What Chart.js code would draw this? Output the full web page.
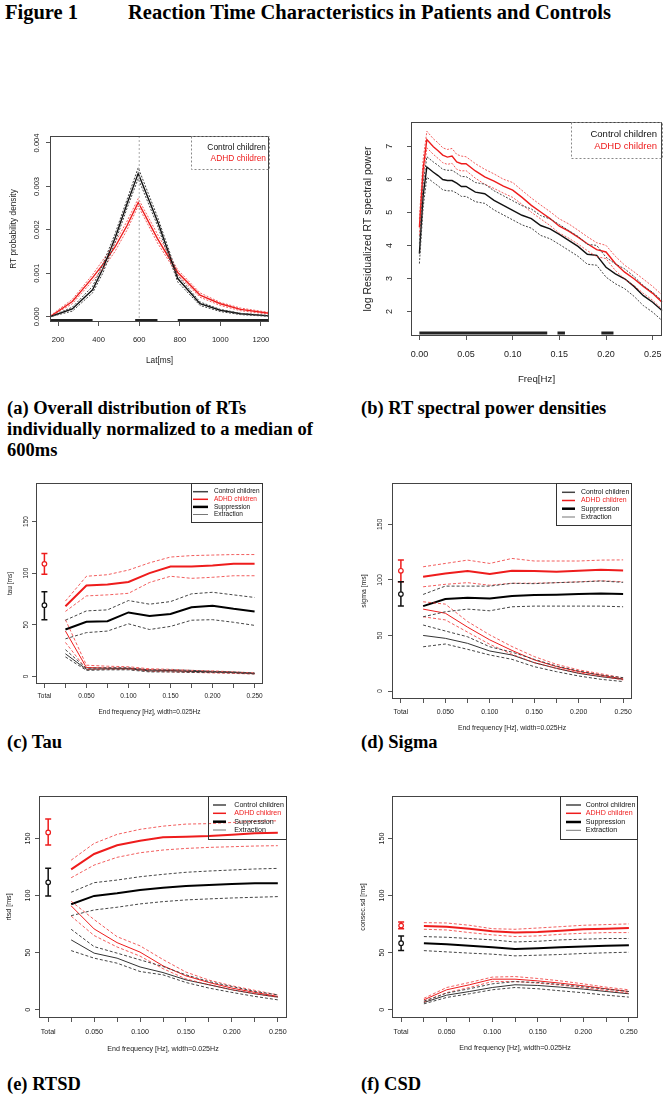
<!DOCTYPE html>
<html><head><meta charset="utf-8">
<script src="https://cdn.jsdelivr.net/npm/chart.js@4.4.1/dist/chart.umd.min.js"></script>
<style>
html,body{margin:0;padding:0;background:#fff}
body{width:669px;height:1102px;position:relative;overflow:hidden}
canvas{position:absolute}
.cap{position:absolute;font-family:"Liberation Serif","Times New Roman",serif;font-weight:bold;font-size:18.5px;line-height:21px;color:#000;white-space:nowrap}
.ttl{font-size:20.5px}
</style></head><body>
<div class="cap ttl" style="left:5px;top:2px">Figure 1</div>
<div class="cap ttl" style="left:128px;top:2px">Reaction Time Characteristics in Patients and Controls</div>
<div class="cap" style="left:7px;top:398px">(a) Overall distribution of RTs<br>individually normalized to a median of<br>600ms</div>
<div class="cap" style="left:361px;top:398px">(b) RT spectral power densities</div>
<div class="cap" style="left:7px;top:732px">(c) Tau</div>
<div class="cap" style="left:361px;top:732px">(d) Sigma</div>
<div class="cap" style="left:7px;top:1074px">(e) RTSD</div>
<div class="cap" style="left:361px;top:1074px">(f) CSD</div>
<script>
// ---------- DATA ----------
// (a) RT distribution
const latA     = [160, 270, 370, 420, 480, 540, 595, 690, 790, 900, 1000, 1100, 1240];
const ctrlA    = [0, 0.00018, 0.00062, 0.0011, 0.0018, 0.0026, 0.0033, 0.0022, 0.00088, 0.0003, 0.00015, 0.00007, 0.00002];
const ctrlAHi  = [0, 0.00022, 0.0007, 0.0012, 0.0019, 0.0027, 0.00343, 0.0023, 0.00095, 0.00034, 0.00017, 0.00008, 0.00003];
const ctrlALo  = [0, 0.00013, 0.00055, 0.001, 0.0017, 0.0025, 0.00318, 0.0021, 0.0008, 0.00026, 0.00012, 0.00005, 0.00001];
const adhdA    = [0, 0.00035, 0.0009, 0.0012, 0.0016, 0.0021, 0.00263, 0.0018, 0.00102, 0.0005, 0.0003, 0.00017, 0.00008];
const adhdAHi  = [0.00002, 0.0004, 0.00097, 0.0013, 0.0017, 0.0022, 0.00272, 0.0019, 0.00108, 0.00055, 0.00033, 0.0002, 0.0001];
const adhdALo  = [0, 0.0003, 0.00083, 0.0011, 0.0015, 0.002, 0.00255, 0.0017, 0.00096, 0.00045, 0.00026, 0.00014, 0.00006];
const sigBarsA = [[160, 370], [580, 690], [790, 1240]];
const xTicksA  = [200, 400, 600, 800, 1000, 1200];
const yTicksA  = [0, 0.001, 0.002, 0.003, 0.004];

// (b) spectral power
const freqB   = [0, 0.004, 0.008, 0.015, 0.02, 0.025, 0.03, 0.035, 0.04, 0.045, 0.05, 0.06, 0.07, 0.08, 0.09, 0.1, 0.11, 0.12, 0.13, 0.14, 0.15, 0.16, 0.17, 0.18, 0.19, 0.2, 0.21, 0.22, 0.23, 0.24, 0.25, 0.26];
const adhdB   = [4.55, 6.3, 7.2, 6.98, 6.86, 6.73, 6.67, 6.7, 6.52, 6.47, 6.47, 6.25, 6.07, 5.94, 5.79, 5.67, 5.45, 5.21, 5.01, 4.81, 4.58, 4.43, 4.25, 4.05, 3.87, 3.8, 3.45, 3.19, 2.99, 2.76, 2.55, 2.28];
const adhdBHi = [4.8, 6.6, 7.45, 7.22, 7.1, 6.95, 6.9, 6.93, 6.75, 6.7, 6.68, 6.47, 6.3, 6.16, 6.0, 5.9, 5.66, 5.43, 5.22, 5.02, 4.8, 4.65, 4.46, 4.26, 4.08, 4.0, 3.67, 3.4, 3.2, 2.98, 2.76, 2.5];
const adhdBLo = [4.3, 6.0, 6.95, 6.75, 6.63, 6.5, 6.45, 6.48, 6.3, 6.25, 6.26, 6.03, 5.85, 5.72, 5.58, 5.45, 5.24, 5.0, 4.8, 4.6, 4.37, 4.22, 4.04, 3.84, 3.66, 3.6, 3.24, 2.98, 2.78, 2.55, 2.34, 2.07];
const ctrlB   = [3.75, 5.5, 6.37, 6.21, 6.11, 5.99, 5.96, 5.96, 5.88, 5.78, 5.78, 5.61, 5.56, 5.36, 5.21, 5.06, 4.91, 4.81, 4.6, 4.5, 4.33, 4.15, 3.97, 3.73, 3.7, 3.34, 3.14, 2.99, 2.76, 2.48, 2.28, 2.03];
const ctrlBHi = [4.05, 5.85, 6.68, 6.52, 6.42, 6.3, 6.27, 6.27, 6.18, 6.08, 6.08, 5.9, 5.85, 5.65, 5.5, 5.35, 5.2, 5.1, 4.9, 4.8, 4.63, 4.45, 4.27, 4.03, 4.0, 3.64, 3.44, 3.29, 3.06, 2.78, 2.58, 2.33];
const ctrlBLo = [3.45, 5.15, 6.06, 5.9, 5.8, 5.68, 5.65, 5.65, 5.58, 5.48, 5.48, 5.32, 5.27, 5.07, 4.92, 4.77, 4.62, 4.52, 4.3, 4.2, 4.03, 3.85, 3.67, 3.43, 3.4, 3.04, 2.84, 2.69, 2.46, 2.18, 1.98, 1.73];
const sigBarsB = [[0, 0.137], [0.148, 0.156], [0.195, 0.208]];
const xTicksB  = [0, 0.05, 0.1, 0.15, 0.2, 0.25];
const yTicksB  = [2, 3, 4, 5, 6, 7];

// (c)-(f) band-limited measures
const endFreq   = [0.025, 0.05, 0.075, 0.1, 0.125, 0.15, 0.175, 0.2, 0.225, 0.25];
const freqTicks = [0, 0.025, 0.05, 0.075, 0.1, 0.125, 0.15, 0.175, 0.2, 0.225, 0.25];
const msTicks   = [0, 50, 100, 150];

// (c) tau
const tauSupRed   = [68, 88, 89, 91.5, 100, 106.5, 106.5, 107.5, 109, 109];
const tauSupRedHi = [73, 97, 98.5, 103, 110, 115.6, 117, 117.5, 118, 118];
const tauSupRedLo = [63, 78, 79, 80.5, 91, 97, 95, 96, 97.5, 97.5];
const tauSupCtl   = [45.5, 53, 53.5, 62, 58.5, 60.5, 67, 68.5, 65.5, 63];
const tauSupCtlHi = [54.5, 63.5, 64.5, 73.5, 70, 72.5, 80, 81.5, 79, 76.5];
const tauSupCtlLo = [36.5, 42.5, 44, 51, 45.5, 48.5, 54.5, 55, 52.5, 49.5];
const tauExtRed   = [44, 8.7, 8.2, 8, 6.5, 5.8, 5, 4.5, 3.8, 3];
const tauExtRedHi = [55, 11, 10, 9.5, 7.5, 7, 6, 5.5, 4.5, 3.5];
const tauExtRedLo = [33, 7, 7, 7, 5, 4.5, 4, 3.5, 3, 2.5];
const tauExtCtl   = [22, 7, 7.5, 7.5, 5.5, 5.5, 5, 4.5, 4, 3];
const tauExtCtlHi = [26, 8, 8.5, 8.5, 6.5, 6.5, 6, 5, 4.5, 3.5];
const tauExtCtlLo = [19, 6, 6.5, 6.5, 4.5, 4.5, 4, 4, 3.5, 2.5];
const tauTotalRed = [109, 99, 119];   // mean, low, high
const tauTotalCtl = [69, 55, 82];

// (d) sigma
const sigSupRed   = [102.8, 105.8, 107.9, 105.2, 108.2, 107.9, 107.3, 108.2, 109.1, 108.5];
const sigSupRedHi = [111.8, 114.8, 117.8, 114.8, 119.3, 117, 117, 117, 117.8, 118];
const sigSupRedLo = [93.8, 96, 97.5, 95.2, 97, 97, 97.5, 98.3, 99.2, 98.3];
const sigSupCtl   = [76.4, 82.7, 83.9, 83.3, 85.4, 86.3, 86.6, 87.2, 87.8, 87.2];
const sigSupCtlHi = [86.9, 94.4, 94.4, 94.4, 96.9, 96.6, 97.5, 98.1, 99, 97.8];
const sigSupCtlLo = [66.8, 71.3, 73.7, 72.2, 75.8, 76.4, 76.4, 76.4, 76.4, 75.8];
const sigExtRed   = [73.7, 70, 57.5, 46, 36.5, 28, 22, 17.5, 14.3, 10.8];
const sigExtRedHi = [80.3, 78.2, 62.5, 50.5, 40, 31, 24, 19, 15.5, 11.8];
const sigExtRedLo = [66.8, 64, 53, 42, 33, 25.5, 20.3, 16.3, 13.3, 10];
const sigExtCtl   = [50, 47.4, 42.9, 36, 32.4, 25.5, 20.4, 15.9, 12.9, 10.5];
const sigExtCtlHi = [59.4, 54, 48.8, 39.8, 35, 28.5, 22.5, 18, 14.4, 12];
const sigExtCtlLo = [39.8, 42.3, 37.5, 32.4, 28.5, 21.9, 17.4, 13.5, 10.5, 8.5];
const sigTotalRed = [108.2, 98.3, 117.8];
const sigTotalCtl = [87.2, 76.4, 98.3];

// (e) RTSD
const rtsdSupRed   = [123, 136.4, 144, 148, 151, 151.6, 152.2, 153.3, 154.5, 155];
const rtsdSupRedHi = [131, 145.7, 153.6, 158, 160.8, 162.6, 163, 164, 165, 165.5];
const rtsdSupRedLo = [115.6, 126.7, 133.5, 137.5, 139.9, 141.3, 142.2, 142.8, 143.4, 143.7];
const rtsdSupCtl   = [92.4, 99.7, 102, 104.9, 106.9, 108.4, 109.3, 110.1, 110.7, 110.7];
const rtsdSupCtlHi = [102.9, 111.3, 113.6, 116.5, 118.6, 120.4, 121.5, 122.4, 123.3, 123.8];
const rtsdSupCtlLo = [82.4, 87.4, 89.8, 92.7, 94.7, 96.2, 97.1, 97.9, 98.5, 99.1];
const rtsdExtRed   = [91, 70.8, 58.8, 50.5, 38.5, 29.7, 23.9, 19, 15.2, 11.7];
const rtsdExtRedHi = [95, 79, 64, 56, 44, 33, 26, 21, 17, 13];
const rtsdExtRedLo = [82, 65, 55, 47, 36, 27, 22, 17.5, 14, 11];
const rtsdExtCtl   = [61.2, 49.6, 45.2, 37.5, 32.6, 26.2, 21.9, 17.5, 14, 11.1];
const rtsdExtCtlHi = [70.5, 55.3, 49.6, 43.7, 37.9, 30.6, 24.7, 20.4, 16, 13.1];
const rtsdExtCtlLo = [51.8, 45.2, 40.8, 33.5, 30.6, 23.9, 19, 15.2, 11.7, 8.7];
const rtsdTotalRed = [155.3, 144.2, 167];
const rtsdTotalCtl = [111.6, 99.7, 123.9];

// (f) CSD
const csdSupRed   = [73.4, 72.8, 71, 68.8, 67.6, 68.2, 69.3, 70.5, 71, 71.6];
const csdSupRedHi = [76.3, 76, 74, 71, 70.5, 71.6, 72.8, 74, 74.6, 75.2];
const csdSupRedLo = [70.5, 69.9, 67.6, 65.6, 64.1, 64.7, 66.1, 67, 67.6, 67.6];
const csdSupCtl   = [58.3, 57.4, 56, 54.8, 53.3, 53.9, 54.8, 55.4, 56, 56.5];
const csdSupCtlHi = [64.1, 63.5, 62.4, 61.2, 59.4, 60, 61.2, 61.8, 62.4, 62.4];
const csdSupCtlLo = [51.8, 50.7, 49.6, 48.7, 47.2, 47.8, 48.4, 49.3, 49.9, 50.4];
const csdExtRed   = [8.7, 17.5, 21.9, 26.8, 26.8, 25.3, 23.3, 21, 18.4, 16];
const csdExtRedHi = [10, 19.5, 23.9, 28.6, 29.1, 27.4, 25.3, 22.7, 19.8, 17.5];
const csdExtRedLo = [6.9, 15, 19.5, 24.7, 24.7, 23.3, 21.6, 19.2, 16.9, 14.6];
const csdExtCtl   = [6.4, 12.8, 16, 19.5, 21.9, 21.3, 19.8, 18.1, 16, 14];
const csdExtCtlHi = [7.6, 14.6, 18.4, 22.7, 24.7, 23.9, 22.1, 20.1, 18.1, 16];
const csdExtCtlLo = [5.2, 10.8, 14, 17.5, 19.5, 18.4, 16.6, 14.9, 12.8, 11.1];
const csdTotalRed = [73.7, 71, 76.9];
const csdTotalCtl = [58.3, 51.8, 64.7];

const legendAB = ['Control children', 'ADHD children'];
const legendCF = ['Control children', 'ADHD children', 'Suppression', 'Extraction'];

// ---------- RENDERING ----------
const FONT = "'Liberation Sans', Arial, Helvetica, sans-serif";
const RED = '#ee1c1c', RED_D = 'rgba(238,40,40,0.75)', BLK = '#111', BLK_D = '#444';

function xy(xs, ys) { return xs.map((x, i) => ({x: x, y: ys[i]})); }
function ln(xs, ys, color, width, dash) {
  return {data: xy(xs, ys), borderColor: color, borderWidth: width, borderDash: dash || [],
          pointRadius: 0, fill: false, tension: 0, clip: 2};
}

function decor(P) {
  return {
    id: 'decor',
    afterDraw(chart) {
      const ctx = chart.ctx, xs = chart.scales.x, ys = chart.scales.y, ca = chart.chartArea;
      const ox = P.rect.x, oy = P.rect.y;
      ctx.save();
      if (P.extra) P.extra(ctx, xs, ys, ca, ox, oy);
      ctx.strokeStyle = '#444'; ctx.lineWidth = 1; ctx.setLineDash([]);
      ctx.strokeRect(Math.round(ca.left) + 0.5, Math.round(ca.top) + 0.5,
                     Math.round(ca.right - ca.left) - 1, Math.round(ca.bottom - ca.top) - 1);
      ctx.fillStyle = '#222';
      ctx.font = P.tickFont + 'px ' + FONT;
      ctx.textAlign = 'center'; ctx.textBaseline = 'middle';
      ys.ticks.forEach(t => {
        const py = ys.getPixelForValue(t.value);
        ctx.save(); ctx.translate(P.yLabX - ox, py); ctx.rotate(-Math.PI / 2);
        ctx.fillText(P.yFmt(t.value), 0, 0); ctx.restore();
      });
      xs.ticks.forEach(t => {
        const s = P.xFmt(t.value);
        if (s) ctx.fillText(s, xs.getPixelForValue(t.value), P.xLabY - oy);
      });
      ctx.font = P.xTitleFont + 'px ' + FONT;
      ctx.fillText(P.xTitle, (ca.left + ca.right) / 2, P.xTitleY - oy);
      ctx.font = P.yTitleFont + 'px ' + FONT;
      ctx.save(); ctx.translate(P.yTitleX - ox, (ca.top + ca.bottom) / 2); ctx.rotate(-Math.PI / 2);
      ctx.fillText(P.yTitle, 0, 0); ctx.restore();
      P.legend(ctx, ox, oy);
      ctx.restore();
    }
  };
}

function build(P, datasets) {
  const c = document.createElement('canvas');
  c.width = P.rect.w; c.height = P.rect.h;
  c.style.left = P.rect.x + 'px'; c.style.top = P.rect.y + 'px';
  c.style.width = P.rect.w + 'px'; c.style.height = P.rect.h + 'px';
  document.body.appendChild(c);
  const YW = 8, XH = 8;
  const pad = {left: P.box.L - P.rect.x - YW, top: P.box.T - P.rect.y,
               right: P.rect.x + P.rect.w - P.box.R, bottom: P.rect.y + P.rect.h - P.box.B - XH};
  const gridOpt = {drawOnChartArea: false, drawTicks: true, tickLength: 4, tickColor: '#555', lineWidth: 1};
  new Chart(c, {
    type: 'line',
    data: {datasets: datasets},
    options: {
      responsive: false, animation: false, devicePixelRatio: 1,
      layout: {padding: pad},
      plugins: {legend: {display: false}, tooltip: {enabled: false}},
      scales: {
        x: {type: 'linear', min: P.xmin, max: P.xmax,
            afterBuildTicks: s => { s.ticks = P.xticks.map(v => ({value: v})); },
            afterFit: s => { s.height = XH; },
            ticks: {display: false}, grid: gridOpt, border: {display: false}},
        y: {type: 'linear', min: P.ymin, max: P.ymax,
            afterBuildTicks: s => { s.ticks = P.yticks.map(v => ({value: v})); },
            afterFit: s => { s.width = YW; },
            ticks: {display: false}, grid: gridOpt, border: {display: false}}
      }
    },
    plugins: [decor(P)]
  });
}

function legendTop(box, font, rows, textRightX, entries) {
  return function (ctx, ox, oy) {
    ctx.setLineDash([2, 2]); ctx.strokeStyle = '#888'; ctx.lineWidth = 1;
    ctx.strokeRect(box.L - ox + 0.5, box.T - oy + 0.5, box.R - box.L, box.B - box.T);
    ctx.setLineDash([]);
    ctx.font = font + 'px ' + FONT; ctx.textAlign = 'right'; ctx.textBaseline = 'middle';
    entries.forEach((e, i) => { ctx.fillStyle = i === 1 ? RED : '#111'; ctx.fillText(e, textRightX - ox, rows[i] - oy); });
  };
}

function legendCF_(box, font, rows, lx0, lx1, tx) {
  const styles = [['#444', 1.5], [RED, 1.5], ['#000', 2.5], ['#777', 1]];
  return function (ctx, ox, oy) {
    ctx.setLineDash([]); ctx.strokeStyle = '#333'; ctx.lineWidth = 1;
    ctx.strokeRect(box.L - ox + 0.5, box.T - oy + 0.5, box.R - box.L - 1, box.B - box.T);
    ctx.font = font + 'px ' + FONT; ctx.textAlign = 'left'; ctx.textBaseline = 'middle';
    legendCF.forEach((e, i) => {
      ctx.strokeStyle = styles[i][0]; ctx.lineWidth = styles[i][1];
      ctx.beginPath(); ctx.moveTo(lx0 - ox, rows[i] - oy); ctx.lineTo(lx1 - ox, rows[i] - oy); ctx.stroke();
      ctx.fillStyle = i === 1 ? RED : '#111';
      ctx.fillText(e, tx - ox, rows[i] - oy);
    });
  };
}

function errorBars(totRed, totCtl) {
  return function (ctx, xs, ys) {
    const px = xs.getPixelForValue(0);
    [[totRed, RED], [totCtl, '#111']].forEach(([v, col]) => {
      const yc = ys.getPixelForValue(v[0]), yl = ys.getPixelForValue(v[1]), yh = ys.getPixelForValue(v[2]);
      ctx.strokeStyle = col; ctx.lineWidth = 1.5; ctx.setLineDash([]);
      ctx.beginPath();
      ctx.moveTo(px, yl); ctx.lineTo(px, yh);
      ctx.moveTo(px - 3, yl); ctx.lineTo(px + 3, yl);
      ctx.moveTo(px - 3, yh); ctx.lineTo(px + 3, yh);
      ctx.stroke();
      ctx.fillStyle = '#fff'; ctx.lineWidth = 1.2;
      ctx.beginPath(); ctx.arc(px, yc, 2.3, 0, Math.PI * 2); ctx.fill(); ctx.stroke();
    });
  };
}

function sigBars(bars, offsetFromBottom) {
  return function (ctx, xs, ys, ca) {
    ctx.strokeStyle = '#222'; ctx.lineWidth = 3; ctx.setLineDash([]);
    const y = ca.bottom - offsetFromBottom;
    bars.forEach(b => {
      ctx.beginPath(); ctx.moveTo(xs.getPixelForValue(b[0]), y); ctx.lineTo(xs.getPixelForValue(b[1]), y); ctx.stroke();
    });
  };
}

const fmtFreq = v => v === 0 ? 'Total' : (Math.abs(v * 20 - Math.round(v * 20)) < 1e-6 ? v.toFixed(3) : '');

// ---------- PANEL (a) ----------
build({
  rect: {x: 0, y: 125, w: 335, h: 250}, box: {L: 50, T: 136, R: 269, B: 322},
  xmin: 160, xmax: 1240, ymin: -0.00012, ymax: 0.00416, xticks: xTicksA, yticks: yTicksA,
  xFmt: v => String(v), yFmt: v => v.toFixed(3),
  tickFont: 7.6, xTitleFont: 8.3, yTitleFont: 8.3,
  yLabX: 37, xLabY: 340, xTitle: 'Lat[ms]', xTitleY: 361, yTitle: 'RT probability density', yTitleX: 14,
  extra: function (ctx, xs, ys, ca) {
    const px = xs.getPixelForValue(600);
    ctx.strokeStyle = '#aaa'; ctx.lineWidth = 1; ctx.setLineDash([2, 2]);
    ctx.beginPath(); ctx.moveTo(px, ca.top); ctx.lineTo(px, ca.bottom); ctx.stroke();
    sigBars(sigBarsA, 1.5)(ctx, xs, ys, ca);
  },
  legend: legendTop({L: 191, T: 136, R: 269, B: 169}, 8.4, [147.3, 158.3], 266, legendAB)
}, [
  ln(latA, ctrlAHi, BLK_D, 1, [2, 1.5]), ln(latA, ctrlALo, BLK_D, 1, [2, 1.5]),
  ln(latA, adhdAHi, RED_D, 1, [2, 1.5]), ln(latA, adhdALo, RED_D, 1, [2, 1.5]),
  ln(latA, ctrlA, BLK, 1.4), ln(latA, adhdA, RED, 1.4)
]);

// ---------- PANEL (b) ----------
build({
  rect: {x: 335, y: 112, w: 334, h: 278}, box: {L: 411, T: 122, R: 662, B: 336},
  xmin: -0.009, xmax: 0.26, ymin: 1.26, ymax: 7.73, xticks: xTicksB, yticks: yTicksB,
  xFmt: v => v.toFixed(2), yFmt: v => String(v),
  tickFont: 9, xTitleFont: 9.7, yTitleFont: 10.5,
  yLabX: 390, xLabY: 355, xTitle: 'Freq[Hz]', xTitleY: 379, yTitle: 'log Residualized RT spectral power', yTitleX: 368,
  extra: sigBars(sigBarsB, 3),
  legend: legendTop({L: 571, T: 122, R: 662, B: 158}, 9.5, [134, 146], 657, legendAB)
}, [
  ln(freqB, ctrlBHi, BLK_D, 1, [2, 1.5]), ln(freqB, ctrlBLo, BLK_D, 1, [2, 1.5]),
  ln(freqB, adhdBHi, RED_D, 1, [2, 1.5]), ln(freqB, adhdBLo, RED_D, 1, [2, 1.5]),
  ln(freqB, ctrlB, BLK, 1.4), ln(freqB, adhdB, RED, 1.4)
]);

// ---------- PANELS (c)-(f) ----------
function bandSets(sR, sRH, sRL, sC, sCH, sCL, eR, eRH, eRL, eC, eCH, eCL) {
  const d = [3, 2];
  return [
    ln(endFreq, sCH, BLK_D, 1, d), ln(endFreq, sCL, BLK_D, 1, d),
    ln(endFreq, eCH, BLK_D, 1, d), ln(endFreq, eCL, BLK_D, 1, d),
    ln(endFreq, sRH, RED_D, 1, d), ln(endFreq, sRL, RED_D, 1, d),
    ln(endFreq, eRH, RED_D, 1, d), ln(endFreq, eRL, RED_D, 1, d),
    ln(endFreq, eC, '#333', 1), ln(endFreq, eR, RED, 1),
    ln(endFreq, sC, '#000', 2), ln(endFreq, sR, RED, 2)
  ];
}

function panelCF(o) {
  return Object.assign({
    xmin: -0.01, xmax: 0.26, ymin: -7.2, ymax: 187.2, xticks: freqTicks, yticks: msTicks,
    xFmt: fmtFreq, yFmt: v => String(v), xTitle: 'End frequency [Hz], width=0.025Hz'
  }, o);
}

build(panelCF({
  rect: {x: 0, y: 475, w: 335, h: 250}, box: {L: 36, T: 483, R: 263, B: 684},
  tickFont: 6.5, xTitleFont: 6.5, yTitleFont: 6.5,
  yLabX: 26, xLabY: 696.7, xTitleY: 712.7, yTitle: 'tau [ms]', yTitleX: 10,
  extra: errorBars(tauTotalRed, tauTotalCtl),
  legend: legendCF_({L: 191, T: 483, R: 263, B: 522}, 6.5, [491.7, 499.3, 506.9, 514.5], 193, 208, 214)
}), bandSets(tauSupRed, tauSupRedHi, tauSupRedLo, tauSupCtl, tauSupCtlHi, tauSupCtlLo,
             tauExtRed, tauExtRedHi, tauExtRedLo, tauExtCtl, tauExtCtlHi, tauExtCtlLo));

build(panelCF({
  rect: {x: 335, y: 475, w: 334, h: 262}, box: {L: 392, T: 483, R: 632, B: 699},
  tickFont: 6.9, xTitleFont: 6.9, yTitleFont: 6.9,
  yLabX: 380, xLabY: 711.7, xTitleY: 728.3, yTitle: 'sigma [ms]', yTitleX: 364.3,
  extra: errorBars(sigTotalRed, sigTotalCtl),
  legend: legendCF_({L: 556, T: 483, R: 632, B: 525}, 6.9, [492.3, 500.5, 508.7, 517], 562, 575, 581)
}), bandSets(sigSupRed, sigSupRedHi, sigSupRedLo, sigSupCtl, sigSupCtlHi, sigSupCtlLo,
             sigExtRed, sigExtRedHi, sigExtRedLo, sigExtCtl, sigExtCtlHi, sigExtCtlLo));

build(panelCF({
  rect: {x: 0, y: 788, w: 335, h: 270}, box: {L: 39, T: 796, R: 287, B: 1018},
  tickFont: 7.1, xTitleFont: 7.1, yTitleFont: 7.1,
  yLabX: 28.3, xLabY: 1031.7, xTitleY: 1049, yTitle: 'rtsd [ms]', yTitleX: 9.3,
  extra: errorBars(rtsdTotalRed, rtsdTotalCtl),
  legend: legendCF_({L: 208, T: 796, R: 287, B: 839}, 7.1, [805, 813.3, 821.7, 830], 213, 226, 234.3)
}), bandSets(rtsdSupRed, rtsdSupRedHi, rtsdSupRedLo, rtsdSupCtl, rtsdSupCtlHi, rtsdSupCtlLo,
             rtsdExtRed, rtsdExtRedHi, rtsdExtRedLo, rtsdExtCtl, rtsdExtCtlHi, rtsdExtCtlLo));

build(panelCF({
  rect: {x: 335, y: 788, w: 334, h: 270}, box: {L: 392, T: 796, R: 638, B: 1018},
  tickFont: 7.1, xTitleFont: 7.1, yTitleFont: 7.1,
  yLabX: 381.7, xLabY: 1031.7, xTitleY: 1048.5, yTitle: 'consec.sd [ms]', yTitleX: 363.3,
  extra: errorBars(csdTotalRed, csdTotalCtl),
  legend: legendCF_({L: 560, T: 796, R: 638, B: 839}, 7.1, [805, 813.3, 822, 830.3], 566, 581, 585.7)
}), bandSets(csdSupRed, csdSupRedHi, csdSupRedLo, csdSupCtl, csdSupCtlHi, csdSupCtlLo,
             csdExtRed, csdExtRedHi, csdExtRedLo, csdExtCtl, csdExtCtlHi, csdExtCtlLo));
</script>
</body></html>
